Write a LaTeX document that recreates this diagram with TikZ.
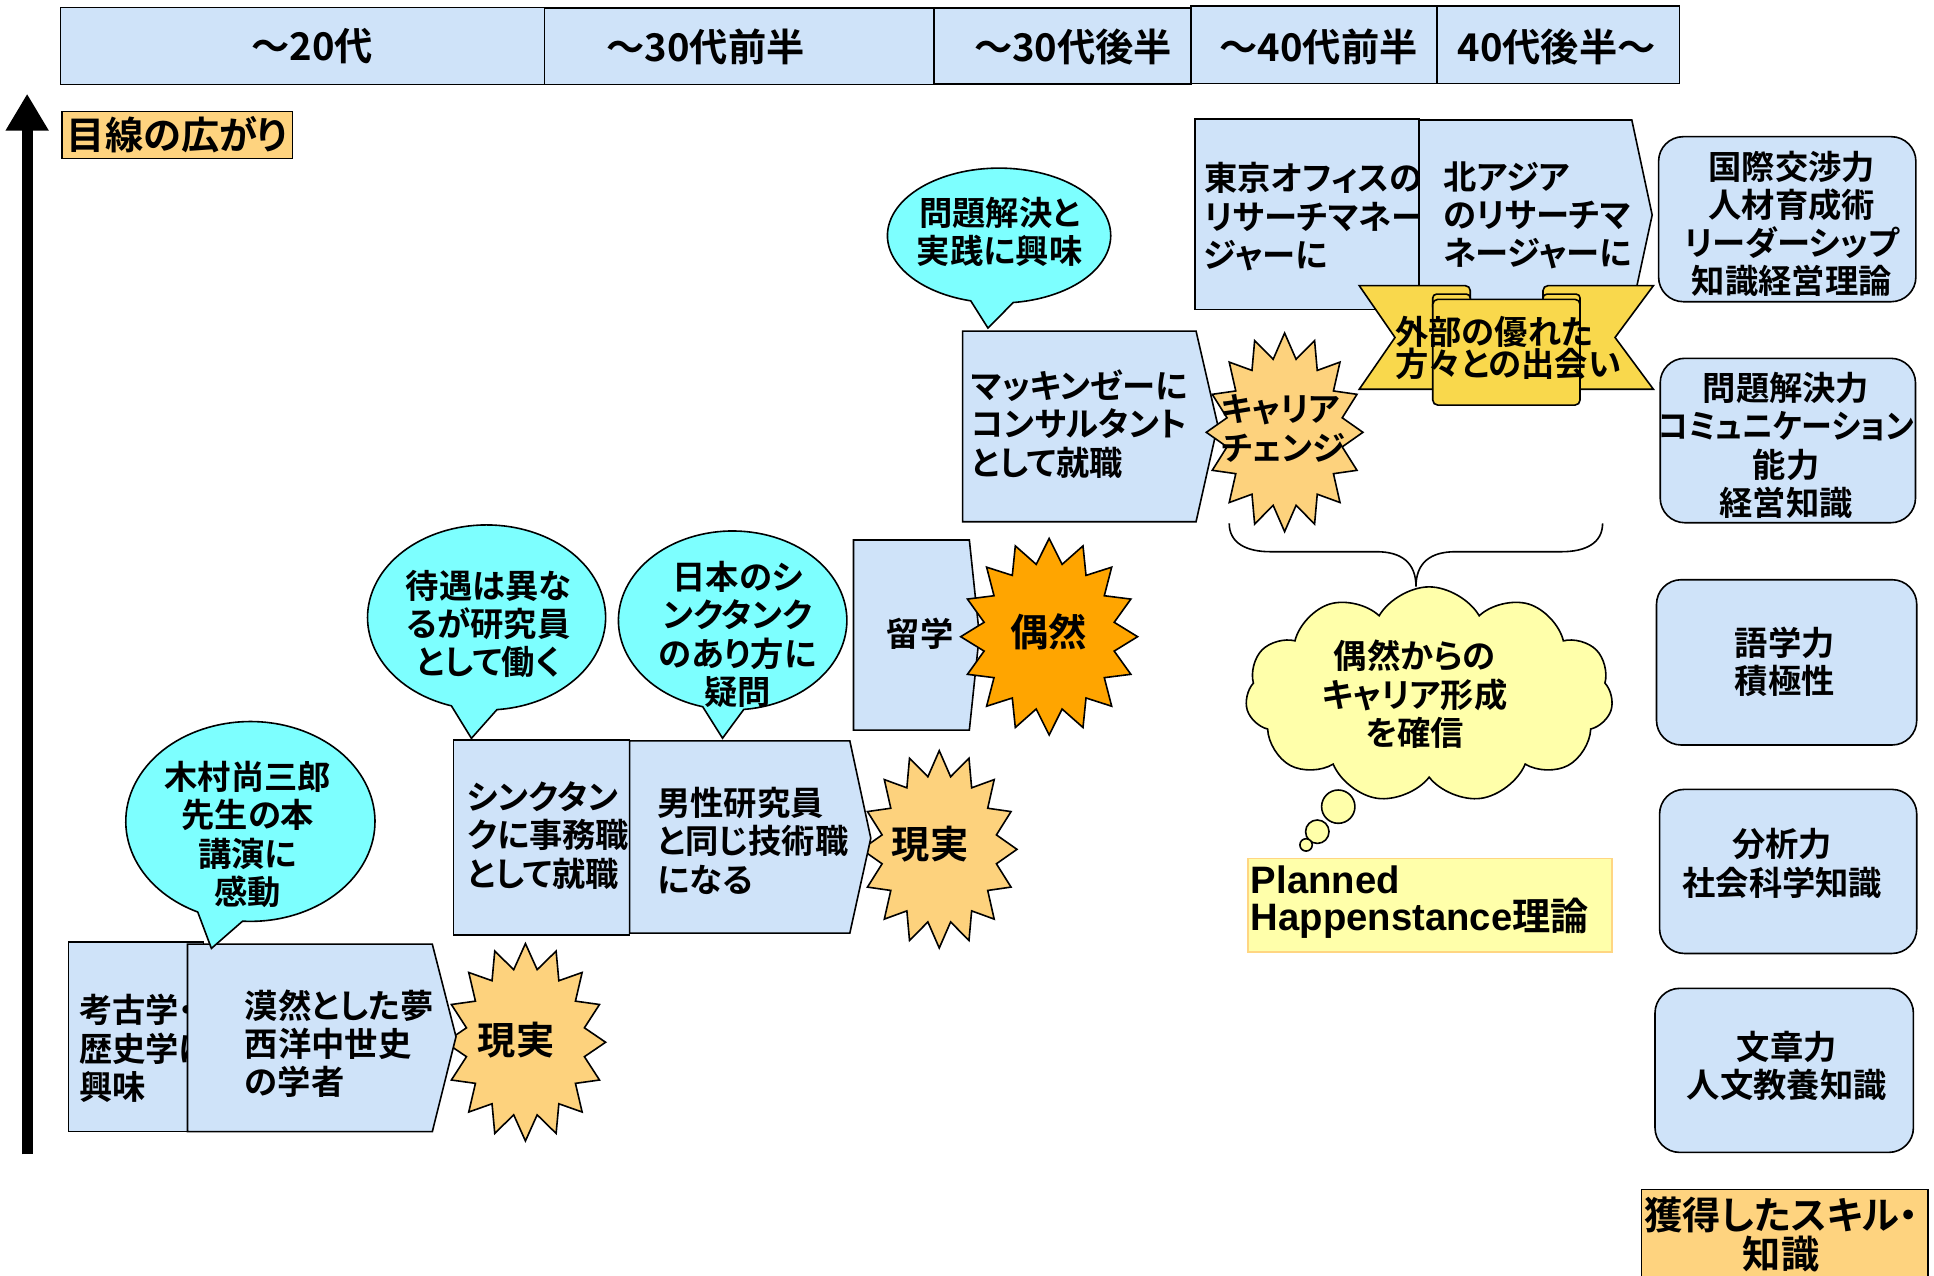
\documentclass[tikz,border=0pt]{standalone}
\usepackage{fontspec}
\setmainfont{Noto Sans CJK JP}[BoldFont={Noto Sans CJK JP Bold}, RawFeature=+palt]
\newfontfamily\arialfont{Liberation Sans}
\usetikzlibrary{shapes.symbols, arrows.meta}
\definecolor{boxblue}{RGB}{207,227,249}
\definecolor{bubcyan}{RGB}{125,255,255}
\definecolor{burstor}{RGB}{253,210,125}
\definecolor{deeporange}{RGB}{255,165,0}
\definecolor{ribbongold}{RGB}{249,216,76}
\definecolor{paleyellow}{RGB}{255,255,170}
\definecolor{labelor}{RGB}{254,211,127}
\definecolor{planborder}{RGB}{255,214,130}

\tikzset{
  shapeline/.style={draw=black, line width=1.3pt},
  bluebox/.style={shapeline, fill=boxblue},
  bubble/.style={shapeline, fill=bubcyan},
  skillbox/.style={shapeline, fill=boxblue, rounded corners=20pt},
  txt/.style={inner sep=0pt, font=\fontsize{27}{31}\selectfont\bfseries},
  txl/.style={txt, align=left, anchor=west},
  txc/.style={txt, align=center},
  headtxt/.style={inner sep=0pt, font=\fontsize{31}{32}\selectfont\bfseries},
  bigtxt/.style={inner sep=0pt, align=center, font=\fontsize{31}{32}\selectfont\bfseries},
}

\newcommand\StarBurst[5]{%
  \filldraw[shapeline, fill=#5, shift={#2}] (90:#3 and #4)
    \foreach \k in {1,...,31}{ -- ({90+\k*11.25}:{#3*(1-0.25*mod(\k,2))} and {#4*(1-0.25*mod(\k,2))}) } -- cycle;
  \coordinate (#1) at #2;
}

\begin{document}
\begin{tikzpicture}[x=1pt, y=-1pt]
\useasboundingbox (0,0) rectangle (1568,1033.8);
\clip (0,0) rectangle (1568,1033.8);

% ---------- header ----------
\filldraw[bluebox] (49,6) rectangle (441.4,68.4);
\filldraw[bluebox] (441.4,6.5) rectangle (757.3,68.4);
\filldraw[bluebox] (757.3,6.5) rectangle (965.6,68);
\filldraw[bluebox] (965.6,5) rectangle (1165,67.6);
\filldraw[bluebox] (1165,5) rectangle (1361.6,67.6);
\node[headtxt] (h1) at (253,37.8) {～20代};
\node[headtxt] (h2) at (572,37.8) {～30代前半};
\node[headtxt] (h3) at (870,37.8) {～30代後半};
\node[headtxt] (h4) at (1069,37.8) {～40代前半};
\node[headtxt] (h5) at (1262,37.8) {40代後半～};

% ---------- vertical arrow ----------
\coordinate (arrbot) at (22,936);
\coordinate (arrtop) at (22,76);
\draw[line width=9pt, -{Triangle[width=33pt,length=30pt]}] (arrbot) -- (arrtop);

\filldraw[draw=black, line width=1.2pt, fill=labelor] (50.2,90.5) rectangle (237.2,128.4);
\node[bigtxt] (lbleye) at (143.7,109.5) {目線の広がり};

% ---------- bottom row ----------
\StarBurst{burstA}{(426,845)}{65}{80}{burstor}
\filldraw[bluebox] (55.5,763.5) rectangle (165,917.5);
\node[txl] (tA) at (64,850) {考古学・\\歴史学に\\興味};
\filldraw[bluebox] (152,765.5) -- (350.5,765.5) -- (369.7,840.5) -- (350.5,917.5) -- (152,917.5) -- cycle;
\node[txl] (tB) at (198.3,846) {漠然とした夢\\西洋中世史\\の学者};
\node[bigtxt] (tburstA) at (418.5,843) {現実};

\filldraw[bubble] (203,666) ++(115:101 and 81) arc[start angle=115, end angle=453.6, x radius=101, y radius=81] -- (171.4,768.9) -- cycle;
\node[txc] (tkimura) at (201,676.6) {木村尚三郎\\先生の本\\講演に\\感動};

% ---------- middle row ----------
\StarBurst{burstB}{(761.5,688.6)}{63}{80}{burstor}
\filldraw[bluebox] (367.8,600) rectangle (510.5,758);
\node[txl] (tC) at (378.7,677.3) {シンクタン\\クに事務職\\として就職};
\filldraw[bluebox] (510.5,600.7) -- (689,600.7) -- (706,679.5) -- (689,756.5) -- (510.5,756.5) -- cycle;
\node[txl] (tD) at (532.7,681.7) {男性研究員\\と同じ技術職\\になる};
\node[bigtxt] (tburstB) at (754,684) {現実};

\filldraw[bubble] (394.5,500.6) ++(107.2:96.5 and 75) arc[start angle=107.2, end angle=445, x radius=96.5, y radius=75] -- (382.2,598.6) -- cycle;
\node[txc] (ttaigu) at (396,505.7) {待遇は異な\\るが研究員\\として働く};
\filldraw[bubble] (594,503) ++(105.2:92.6 and 72.5) arc[start angle=105.2, end angle=444.4, x radius=92.6, y radius=72.5] -- (585.8,598.5) -- cycle;
\node[txc] (tnihon) at (598,514.4) {日本のシ\\ンクタンク\\のあり方に\\疑問};

% ---------- study abroad ----------
\filldraw[bluebox] (692,437.8) -- (785.9,437.8) -- (794,514.8) -- (785.9,591.9) -- (692,591.9) -- cycle;
\node[txc] (tE) at (746,513.5) {留学};
\StarBurst{burstC}{(850.6,516.2)}{71.7}{79.7}{deeporange}
\node[bigtxt] (tburstC) at (850,512) {偶然};

% ---------- McKinsey ----------
\filldraw[bluebox] (780.4,268.4) -- (969.7,268.4) -- (987.3,344.6) -- (969.7,423) -- (780.4,423) -- cycle;
\node[txl] (tF) at (787.3,343.7) {マッキンゼーに\\コンサルタント\\として就職};
\StarBurst{burstD}{(1041.5,350.5)}{63.5}{80.5}{burstor}
\node[txl] (tburstD) at (990,347.3) {キャリア\\チェンジ};
\filldraw[bubble] (810,191) ++(104.7:90.5 and 54.7) arc[start angle=104.7, end angle=442.7, x radius=90.5, y radius=54.7] -- (801,266) -- cycle;
\node[txc] (tmondai) at (810.5,187.8) {問題解決と\\実践に興味};

% ---------- research manager ----------
\filldraw[bluebox] (968.8,96.7) rectangle (1150.5,250.8);
\node[txl] (tG) at (976,175.7) {東京オフィスの\\リサーチマネー\\ジャーに};
\filldraw[bluebox] (1150.5,97.3) -- (1323,97.3) -- (1339.5,174.3) -- (1323,250.8) -- (1150.5,250.8) -- cycle;
\node[txl] (tH) at (1170,174.8) {北アジア\\のリサーチマ\\ネージャーに};

% ribbon
\filldraw[shapeline, fill=ribbongold] (1192,236) -- (1192,315.6) -- (1102,315.6) -- (1131,273.6) -- (1102,231.6) -- (1188,231.6) arc[start angle=270, end angle=360, radius=4] -- cycle;
\filldraw[shapeline, fill=ribbongold] (1251,236) -- (1251,315.6) -- (1340.5,315.6) -- (1309.4,273.6) -- (1340.5,231.6) -- (1255,231.6) arc[start angle=270, end angle=180, radius=4] -- cycle;
\filldraw[shapeline, fill=ribbongold, rounded corners=3pt] (1161.6,238.5) rectangle (1192,252);
\filldraw[shapeline, fill=ribbongold, rounded corners=3pt] (1251,238.5) rectangle (1281,252);
\filldraw[shapeline, fill=ribbongold, rounded corners=4pt] (1161.6,242.7) rectangle (1281,328.4);
\node[txl, font=\fontsize{27}{26}\selectfont\bfseries] (tribbon) at (1131,281.8) {外部の優れた\\方々との出会い};

% ---------- skills ----------
\filldraw[skillbox] (1344.7,110.8) rectangle (1553.3,244.6);
\node[txc] (s1) at (1452.7,181.5) {国際交渉力\\人材育成術\\リーダーシップ\\知識経営理論};
\filldraw[skillbox] (1346,290.5) rectangle (1553,423.8);
\node[txc] (s2) at (1448,361.1) {問題解決力\\\scalebox{0.93}[1]{コミュニケーション}\\能力\\経営知識};
\filldraw[skillbox] (1343,470) rectangle (1554,604);
\node[txc] (s3) at (1447,536.5) {語学力\\積極性};
\filldraw[skillbox] (1345.5,640) rectangle (1554,773);
\node[txc] (s4) at (1445,700) {分析力\\社会科学知識};
\filldraw[skillbox] (1341.8,801.3) rectangle (1551.3,934.3);
\node[txc] (s5) at (1448.6,864) {文章力\\人文教養知識};

\filldraw[draw=black, line width=1.2pt, fill=labelor] (1331,964.3) rectangle (1563,1045);
\node[bigtxt] (lblskill) at (1444,1001) {獲得したスキル・\\知識};

% ---------- brace, cloud ----------
\draw[line width=1.3pt] (996.6,424.3) .. controls (996.6,440) and (1010,447.3) .. (1030,447.3) -- (1116,447.3)
  .. controls (1136,447.3) and (1148,456) .. (1148,475.6)
  .. controls (1148,456) and (1160,447.3) .. (1180,447.3) -- (1266,447.3)
  .. controls (1286,447.3) and (1299.3,440) .. (1299.3,424.3);

\node[cloud, cloud puffs=11, cloud puff arc=120, cloud ignores aspect, draw, fill=paleyellow, line width=1.3pt, minimum width=298pt, minimum height=175pt, inner sep=0pt] (cloud) at (1158.7,563.3) {};
\node[circle, draw, fill=paleyellow, line width=1.3pt, minimum size=27pt, inner sep=0pt] (th1) at (1085,654) {};
\node[circle, draw, fill=paleyellow, line width=1.3pt, minimum size=19pt, inner sep=0pt] (th2) at (1068,674.3) {};
\node[circle, draw, fill=paleyellow, line width=1.3pt, minimum size=10pt, inner sep=0pt] (th3) at (1058.9,685) {};
\node[txc] (tcloud) at (1147,563) {偶然からの\\キャリア形成\\を確信};

\filldraw[draw=planborder, line width=1.5pt, fill=paleyellow] (1012,696) rectangle (1306.6,771.6);
\node[inner sep=0pt, align=left, anchor=west, font=\fontsize{31}{30}\selectfont\bfseries] (tplanned) at (1014,731) {{\arialfont\bfseries Planned}\\{\arialfont\bfseries Happenstance}理論};
\end{tikzpicture}
\end{document}
